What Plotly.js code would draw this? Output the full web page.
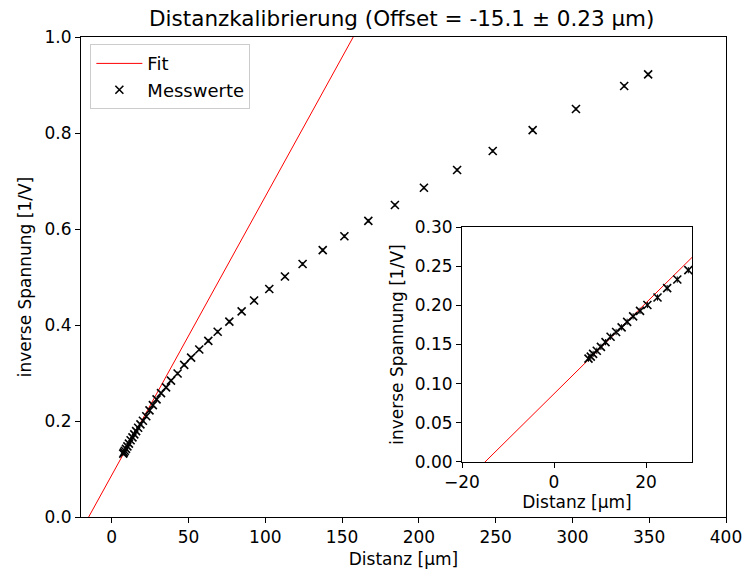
<!DOCTYPE html>
<html>
<head>
<meta charset="utf-8">
<script src="https://cdn.plot.ly/plotly-3.0.1.min.js"></script>
<style>html,body{margin:0;padding:0;background:#fff}#chart{width:744px;height:573px}</style>
</head>
<body>
<div id="chart"></div>
<script>
// Messwerte (Distanz in µm, inverse Spannung in 1/V)
const distanz = [7.5, 8.0, 8.5, 9.3, 10.2, 11.2, 12.3, 13.5, 14.7, 15.9, 17.2, 18.7, 20.3, 22.5, 24.6, 26.8, 29.2,
  32.1, 35.4, 38.6, 42.9, 47.2, 51.7, 57.0, 62.9, 69.0, 76.6, 84.6, 92.7, 102.6, 112.8, 124.3, 137.4, 151.5,
  167.1, 184.4, 203.3, 224.9, 248.1, 274.1, 302.3, 333.7, 349.3];
const invSpannung = [0.132, 0.1345, 0.138, 0.142, 0.147, 0.153, 0.160, 0.166, 0.172, 0.179, 0.186, 0.193, 0.2005, 0.210, 0.222, 0.233, 0.245,
  0.258, 0.270, 0.284, 0.299, 0.317, 0.332, 0.349, 0.367, 0.386, 0.407, 0.4285, 0.451, 0.475, 0.501, 0.527, 0.556, 0.585,
  0.617, 0.650, 0.686, 0.723, 0.7625, 0.806, 0.850, 0.898, 0.922];
const fehler = [0.004, 0.004, 0.004, 0.004, 0.004, 0.004, 0.004, 0.004, 0.004, 0.004, 0.004, 0.004, 0.004, 0.004, 0.004, 0.004, 0.004,
  0.004, 0.004, 0.004, 0.004, 0.004, 0.004, 0.004, 0.004, 0.004, 0.004, 0.004, 0.004, 0.004, 0.004, 0.004, 0.004, 0.004,
  0.004, 0.004, 0.004, 0.004, 0.004, 0.004, 0.004, 0.004, 0.004];
// Fit-Gerade (Endpunkte)
const fitX = [-20, 180];
const fitY = [-0.029, 1.132];

const font = 'DejaVu Sans, sans-serif';
const markerStyle = {symbol: 'x-thin', size: 8, color: 'black', line: {width: 1.6, color: 'black'}};
const errStyle = {type: 'data', array: fehler, visible: true, color: 'black', thickness: 1, width: 0};

const traces = [
  {x: fitX, y: fitY, mode: 'lines', name: 'Fit', line: {color: 'red', width: 1}, xaxis: 'x', yaxis: 'y'},
  {x: distanz, y: invSpannung, mode: 'markers', name: 'Messwerte', marker: markerStyle, error_y: errStyle, xaxis: 'x', yaxis: 'y'},
  {x: fitX, y: fitY, mode: 'lines', showlegend: false, line: {color: 'red', width: 1}, xaxis: 'x2', yaxis: 'y2'},
  {x: distanz, y: invSpannung, mode: 'markers', showlegend: false, marker: markerStyle, error_y: errStyle, xaxis: 'x2', yaxis: 'y2'}
];

const FS = 17;
const axBase = {
  showgrid: false, zeroline: false, showline: true, linecolor: 'black', linewidth: 1, mirror: true,
  ticks: 'outside', ticklen: 5, tickwidth: 1, tickcolor: 'black', ticklabeloverflow: 'allow',
  tickfont: {family: font, size: FS, color: 'black'}
};

const layout = {
  width: 744, height: 573,
  margin: {l: 81, r: 18, t: 37, b: 56},
  paper_bgcolor: 'white', plot_bgcolor: 'white',
  font: {family: font, color: 'black'},
  title: {text: 'Distanzkalibrierung (Offset = -15.1 ± 0.23 µm)', font: {family: font, size: 21.5, color: 'black'}, x: 0.540, xanchor: 'center', y: 0.968, yanchor: 'middle'},
  xaxis: Object.assign({}, axBase, {range: [-20, 400], dtick: 50, tick0: 0, domain: [0, 1], anchor: 'y',
    title: {text: 'Distanz [µm]', font: {family: font, size: FS, color: 'black'}, standoff: 6}}),
  yaxis: Object.assign({}, axBase, {range: [0, 1], dtick: 0.2, tick0: 0, tickformat: '.1f', domain: [0, 1], anchor: 'x',
    title: {text: 'inverse Spannung [1/V]', font: {family: font, size: FS, color: 'black'}, standoff: 8}}),
  xaxis2: Object.assign({}, axBase, {range: [-20, 30], tickvals: [-20, 0, 20], domain: [0.5907, 0.9473], anchor: 'y2',
    title: {text: 'Distanz [µm]', font: {family: font, size: FS, color: 'black'}, standoff: 2}}),
  yaxis2: Object.assign({}, axBase, {range: [0, 0.3], dtick: 0.05, tick0: 0, tickformat: '.2f', domain: [0.1146, 0.604], anchor: 'x2',
    title: {text: 'inverse Spannung [1/V]', font: {family: font, size: FS, color: 'black'}, standoff: 6}}),
  legend: {x: 0.0145, y: 0.985, xanchor: 'left', yanchor: 'top', bgcolor: 'rgba(255,255,255,0.8)', bordercolor: '#cccccc', borderwidth: 1,
    font: {family: font, size: 18, color: 'black'}, tracegroupgap: 0, itemwidth: 46},
  showlegend: true
};

Plotly.newPlot('chart', traces, layout, {displayModeBar: false, staticPlot: true});
</script>
</body>
</html>
